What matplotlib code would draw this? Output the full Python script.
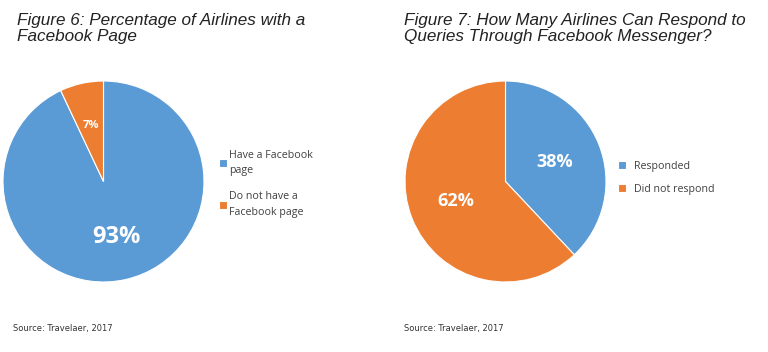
import matplotlib.pyplot as plt

W, H = 768, 352

# data
fb_labels = ["Have a Facebook\npage", "Do not have a\nFacebook page"]
fb_values = [93, 7]
msg_labels = ["Responded", "Did not respond"]
msg_values = [38, 62]
colors = ["#5B9BD5", "#ED7D31"]

title_left = "Figure 6: Percentage of Airlines with a\nFacebook Page"
title_right = "Figure 7: How Many Airlines Can Respond to\nQueries Through Facebook Messenger?"
source = "Source: Travelaer, 2017"

plt.rcParams["font.family"] = ["Open Sans", "DejaVu Sans"]

fig = plt.figure(figsize=(W / 100, H / 100), dpi=100)


def px_axes(x0, y0, x1, y1):
    return fig.add_axes([x0 / W, 1 - y1 / H, (x1 - x0) / W, (y1 - y0) / H])


def pie(ax, values, pct_sizes, pct_dist):
    wedges, _, autotexts = ax.pie(
        values, colors=colors, startangle=90, counterclock=False,
        autopct="%d%%", pctdistance=pct_dist, radius=1,
        wedgeprops=dict(edgecolor="white", linewidth=0.8),
    )
    for t, s in zip(autotexts, pct_sizes):
        t.set_color("white")
        t.set_fontweight("bold")
        t.set_fontsize(s)
    ax.set_xlim(-1.01, 1.01)
    ax.set_ylim(-1.01, 1.01)
    ax.set_aspect("equal")
    ax.axis("off")
    return wedges


ax1 = px_axes(2, 80, 205, 283)
w1 = pie(ax1, fb_values, [17, 8], 0.57)

ax2 = px_axes(403, 80, 608, 283)
w2 = pie(ax2, msg_values, [13, 13], 0.53)

# titles
for x, t in [(17, title_left), (404, title_right)]:
    fig.text(x / W, 1 - 13 / H, t, ha="left", va="top", fontsize=12.3,
             style="italic", fontweight="normal", color="#222222",
             family=["Liberation Sans", "DejaVu Sans"], linespacing=1.1)

# legends
leg1 = fig.legend(w1, fb_labels, loc="upper left", bbox_to_anchor=(209 / W, 1 - 140 / H),
                  frameon=False, fontsize=7.7, handlelength=0.75, handleheight=0.75,
                  handletextpad=0.25, labelspacing=1.4, labelcolor="#404040")
for t in leg1.get_texts():
    t.set_linespacing(1.6)
fig.legend(w2, msg_labels, loc="upper left", bbox_to_anchor=(608 / W, 1 - 151 / H),
           frameon=False, fontsize=7.7, handlelength=0.75, handleheight=0.75,
           handletextpad=0.8, labelspacing=1.15, labelcolor="#404040")

# sources
for x in (13, 404):
    fig.text(x / W, 1 - 328 / H, source, ha="left", va="center", fontsize=6,
             family=["Liberation Sans Narrow", "DejaVu Sans"], color="#333333")

fig.savefig("out.png", dpi=100, facecolor="white")
